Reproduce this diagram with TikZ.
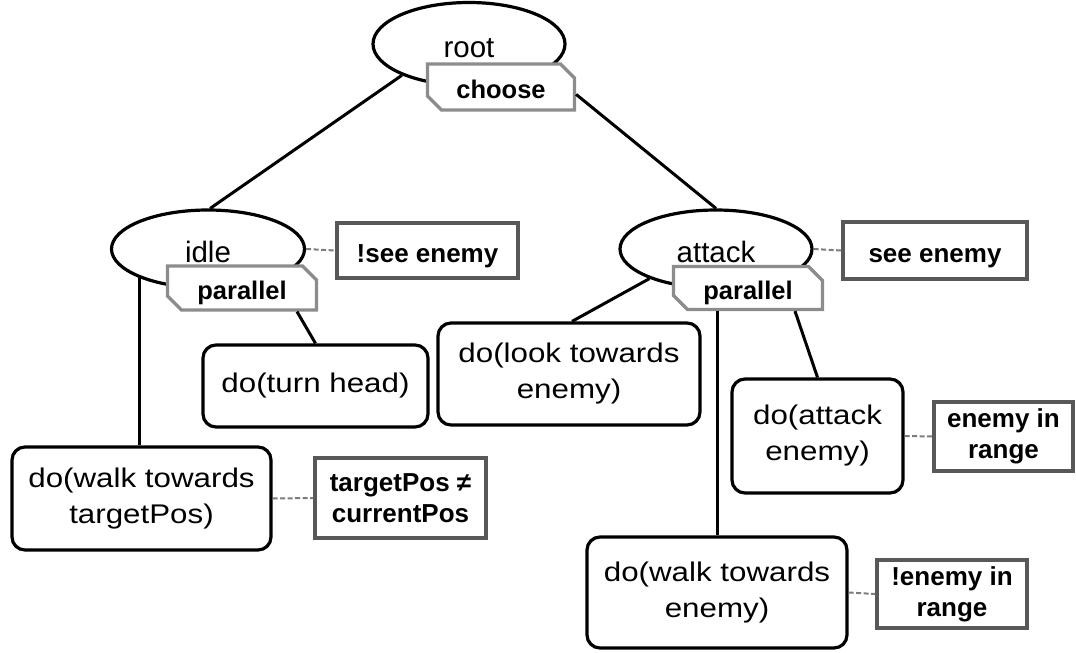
\documentclass[tikz,border=0pt]{standalone}
\usepackage{fontspec}
\setmainfont{Liberation Sans}
\newfontfamily\actfont{Liberation Sans}[FakeStretch=1.16]
\usetikzlibrary{shapes.geometric,shapes.misc,calc}
\definecolor{condgray}{HTML}{585858}
\definecolor{taggray}{HTML}{8C8C8C}
\definecolor{dashgray}{HTML}{7C7C7C}
\tikzset{
  ell/.style={ellipse, draw=black, line width=3.2pt, fill=white, inner sep=0pt,
    text height=27pt, text depth=0pt, font=\fontsize{29.5}{35}\selectfont},
  tag/.style={chamfered rectangle, chamfered rectangle corners={north east,south west},
    chamfered rectangle xsep=7pt, chamfered rectangle ysep=7pt,
    draw=taggray, line width=3.2pt, fill=white, inner sep=0pt,
    text height=22pt, text depth=0pt,
    font=\fontsize{25.5}{30}\selectfont\bfseries},
  cond/.style={rectangle, draw=condgray, line width=3.6pt, fill=white, inner sep=0pt,
    align=center, font=\fontsize{26}{31}\selectfont\bfseries},
  condone/.style={cond, text height=28pt, text depth=5pt},
  act/.style={rectangle, rounded corners=13pt, draw=black, line width=3.2pt, fill=white,
    inner sep=0pt, align=center, font=\fontsize{27}{36}\actfont},
  edge/.style={line width=3pt, black},
  dashe/.style={line width=2pt, dashgray, dash pattern=on 5pt off 2.5pt},
}
\begin{document}
\begin{tikzpicture}[x=1pt,y=-1pt]
\useasboundingbox (0,0) rectangle (1076,653);
% ellipses
\node[ell, minimum width=192pt, minimum height=83pt] (root) at (469,44) {root};
\node[ell, minimum width=193pt, minimum height=78pt] (idle) at (208,249) {idle};
\node[ell, minimum width=192pt, minimum height=78pt] (attack) at (716,249) {attack};
% tags
\node[tag, minimum width=147pt, minimum height=46pt] (choose) at (501,87) {choose};
\node[tag, minimum width=149pt, minimum height=44pt] (ptagA) at (242,288) {parallel};
\node[tag, minimum width=149pt, minimum height=43pt] (ptagB) at (748,288) {parallel};
% conditions
\node[condone, minimum width=181pt, minimum height=55pt] (condA) at (427.5,250.5) {!see enemy};
\node[condone, minimum width=184pt, minimum height=57pt] (condB) at (935,250.5) {see enemy};
\node[cond, minimum width=171pt, minimum height=80pt] (condC) at (400.5,498) {targetPos ≠\\currentPos};
\node[cond, minimum width=139pt, minimum height=69pt] (condD) at (1003.5,436.5) {enemy in\\range};
\node[cond, minimum width=150pt, minimum height=68pt] (condE) at (952,594) {!enemy in\\range};
% actions
\node[act, minimum width=225pt, minimum height=82pt] (turn) at (315.5,386) {do(turn head)};
\node[act, minimum width=262pt, minimum height=102pt] (look) at (569,374) {do(look towards\\enemy)};
\node[act, minimum width=171pt, minimum height=114pt] (atk) at (817.5,436) {do(attack\\enemy)};
\node[act, minimum width=259pt, minimum height=103pt] (walktp) at (141.5,498.5) {do(walk towards\\targetPos)};
\node[act, minimum width=260pt, minimum height=111pt] (walken) at (717,592.5) {do(walk towards\\enemy)};
% tree edges
\draw[edge] (root.205) -- (idle.87);
\draw[edge] ($(choose.east)!0.3!(choose.south east)$) -- (attack.north);
\draw[edge] (idle.203.4) -- (idle.203.4 |- walktp.north);
\draw[edge] ($(ptagA.south)+(55,0)$) -- (turn.north);
\draw[edge] (attack.204.2) -- ($(look.north)+(3,0)$);
\draw[edge] (walken.north |- ptagB.south) -- (walken.north);
\draw[edge] ($(ptagB.south)+(47,0)$) -- (atk.north);
% dashed condition links
\draw[dashe] (idle.east) -- (condA.west);
\draw[dashe] (attack.east) -- (condB.west);
\draw[dashe] (walktp.east) -- (condC.west);
\draw[dashe] (atk.east) -- (condD.west);
\draw[dashe] (walken.east) -- (condE.west);
\end{tikzpicture}
\end{document}
